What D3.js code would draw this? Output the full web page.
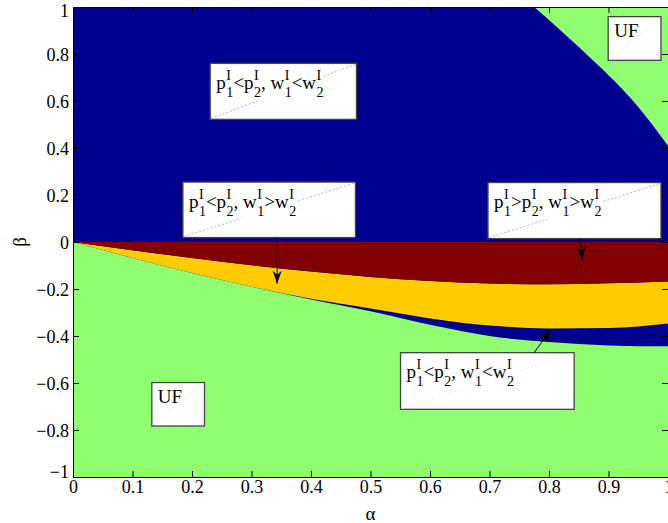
<!DOCTYPE html>
<html>
<head>
<meta charset="utf-8">
<script src="https://cdn.jsdelivr.net/npm/d3@7"></script>
<style>
  body { margin: 0; background: #fff; }
  svg { display: block; }
  text { font-family: "Liberation Serif", "Times New Roman", Times, serif; fill: #000; white-space: pre; }
</style>
</head>
<body>
<svg id="chart" width="668" height="523"></svg>
<script>
/* ── Data ───────────────────────────────────────────────────────────────────── */
const ALPHA         = [0, 0.1, 0.2, 0.3, 0.4, 0.5, 0.6, 0.7, 0.8, 0.9, 1.0];
const RED_BOTTOM    = [0, -0.035, -0.068, -0.099, -0.126, -0.149, -0.166, -0.177, -0.180, -0.176, -0.168];
const YELLOW_BOTTOM = [0, -0.068, -0.132, -0.190, -0.242, -0.283, -0.325, -0.355, -0.368, -0.366, -0.347];
const GREEN_TOP     = [0, -0.068, -0.132, -0.190, -0.245, -0.295, -0.352, -0.400, -0.426, -0.440, -0.444];

// upper-right unfeasible region boundary
const UF_ALPHA = [0.775, 0.8, 0.85, 0.9, 0.95, 1.0];
const UF_BETA  = [1.0, 0.945, 0.83, 0.71, 0.575, 0.41];

const X_TICKS = [0, 0.1, 0.2, 0.3, 0.4, 0.5, 0.6, 0.7, 0.8, 0.9, 1];
const Y_TICKS = [-1, -0.8, -0.6, -0.4, -0.2, 0, 0.2, 0.4, 0.6, 0.8, 1];

const LABELS = [
  "p_1^I<p_2^I, w_1^I<w_2^I",
  "p_1^I<p_2^I, w_1^I>w_2^I",
  "p_1^I>p_2^I, w_1^I>w_2^I",
  "p_1^I<p_2^I, w_1^I<w_2^I",
  "UF",
  "UF",
];

/* ── Annotation layout (data units) ─────────────────────────────────────────── */
const BOXES = [
  [0.2306, 0.760, 0.4764, 0.522],
  [0.1847, 0.255, 0.4747, 0.019],
  [0.6975, 0.253, 0.9882, 0.0145],
  [0.5505, -0.471, 0.8423, -0.712],
  [0.8995, 0.959, 0.9882, 0.773],
  [0.1325, -0.598, 0.2210, -0.783],
];
const ARROWS = [
  [0.3436, 0.019, 0.3430, -0.178],
  [0.8520, 0.0145, 0.8560, -0.076],
  [0.7750, -0.471, 0.8030, -0.373],
];

/* ── Palette ────────────────────────────────────────────────────────────────── */
const C_BLUE = "#00008f", C_GREEN = "#8fff70", C_YELLOW = "#ffcc00", C_RED = "#800000";
const DIAG = ["#aab0f0", "#aab0f0", "#aab0f0", "#d4ffc4", "#d4ffc4", "#d4ffc4"];
const SERIF = '"Liberation Serif", "Times New Roman", Times, serif';

/* ── Setup ──────────────────────────────────────────────────────────────────── */
const svg = d3.select("#chart");
const x = d3.scaleLinear().domain([0, 1]).range([73, 668]);
const y = d3.scaleLinear().domain([-1, 1]).range([477, 7]);

svg.append("clipPath").attr("id", "plot-clip")
  .append("rect")
  .attr("x", x(0)).attr("y", y(1))
  .attr("width", x(1) - x(0)).attr("height", y(-1) - y(1));

const plot = svg.append("g").attr("clip-path", "url(#plot-clip)");

// background = blue region
plot.append("rect")
  .attr("x", x(0)).attr("y", y(1))
  .attr("width", x(1) - x(0)).attr("height", y(-1) - y(1))
  .attr("fill", C_BLUE);

const idx = d3.range(ALPHA.length);
const band = (top, bottom) => d3.area()
  .x(i => x(ALPHA[i]))
  .y0(i => y(bottom(i)))
  .y1(i => y(top(i)))
  .curve(d3.curveMonotoneX);

plot.append("path").datum(idx).attr("fill", C_GREEN)
  .attr("d", band(i => GREEN_TOP[i], () => -1));
plot.append("path").datum(idx).attr("fill", C_YELLOW)
  .attr("d", band(i => RED_BOTTOM[i], i => YELLOW_BOTTOM[i]));
plot.append("path").datum(idx).attr("fill", C_RED)
  .attr("d", band(() => 0, i => RED_BOTTOM[i]));

// top-right UF region
const ufIdx = d3.range(UF_ALPHA.length);
plot.append("path").datum(ufIdx).attr("fill", C_GREEN)
  .attr("d", d3.area()
    .x(i => x(UF_ALPHA[i]))
    .y0(i => y(UF_BETA[i]))
    .y1(() => y(1))
    .curve(d3.curveNatural));

/* ── Axes ───────────────────────────────────────────────────────────────────── */
const fmt = d3.format("");
const styleAxis = g => {
  g.attr("font-family", null);
  g.select(".domain").attr("stroke", "#000");
  g.selectAll(".tick line").attr("stroke", "#000");
  g.selectAll(".tick text").attr("fill", "#000")
    .style("font-family", SERIF).style("font-size", "18px");
};

svg.append("g").attr("transform", `translate(0,${y(-1)})`)
  .call(d3.axisBottom(x).tickValues(X_TICKS).tickFormat(fmt).tickSizeInner(-6).tickSizeOuter(0).tickPadding(3))
  .call(styleAxis);
svg.append("g").attr("transform", `translate(0,${y(1)})`)
  .call(d3.axisTop(x).tickValues(X_TICKS).tickFormat("").tickSizeInner(-6).tickSizeOuter(0))
  .call(styleAxis);
const yAxis = svg.append("g").attr("transform", `translate(${x(0)},0)`)
  .call(d3.axisLeft(y).tickValues(Y_TICKS).tickFormat(fmt).tickSizeInner(-6).tickSizeOuter(0).tickPadding(4))
  .call(styleAxis);
// MATLAB nudges the end labels inside the axis
yAxis.selectAll(".tick text")
  .attr("dy", d => d === -1 ? "0" : d === 1 ? "0.5em" : "0.38em");
svg.append("g").attr("transform", `translate(${x(1)},0)`)
  .call(d3.axisRight(y).tickValues(Y_TICKS).tickFormat("").tickSizeInner(-6).tickSizeOuter(0))
  .call(styleAxis);

svg.append("text").attr("x", x(0.5)).attr("y", 520)
  .attr("text-anchor", "middle").style("font-size", "19px").text("α");
svg.append("text").attr("transform", `translate(26,${y(0)}) rotate(-90)`)
  .attr("text-anchor", "middle").style("font-size", "19px").text("β");

/* ── Annotations ────────────────────────────────────────────────────────────── */
function drawTex(g, x0, y0, src) {
  let cx = x0, i = 0;
  while (i < src.length) {
    let base = "";
    while (i < src.length && src[i] !== "_" && src[i] !== "^") { base += src[i]; i++; }
    if (base) {
      const t = g.append("text").attr("x", cx).attr("y", y0).style("font-size", "19px").text(base);
      cx += t.node().getComputedTextLength();
    }
    let w = 0;
    while (i < src.length && (src[i] === "_" || src[i] === "^")) {
      const sub = src[i] === "_";
      const t = g.append("text").attr("x", cx + 0.5).attr("y", y0 + (sub ? 8 : -9))
        .style("font-size", "14px").text(src[i + 1]);
      w = Math.max(w, t.node().getComputedTextLength() + 0.5);
      i += 2;
    }
    cx += w;
  }
}

const ann = svg.append("g");
BOXES.forEach(([a0, b0, a1, b1], k) => {
  const bx = x(a0), by = y(b0), bw = x(a1) - x(a0), bh = y(b1) - y(b0);
  const g = ann.append("g");
  g.append("rect").attr("x", bx).attr("y", by).attr("width", bw).attr("height", bh)
    .attr("fill", "#fff").attr("stroke", "#444").attr("stroke-width", 1.3);
  g.append("line").attr("x1", bx + 1).attr("y1", by + bh - 1).attr("x2", bx + bw - 1).attr("y2", by + 1)
    .attr("stroke", DIAG[k]).attr("stroke-width", 1).attr("stroke-dasharray", "2,2");
  const bg = g.append("rect").attr("fill", "#fff");
  const tg = g.append("g");
  const isUF = LABELS[k] === "UF";
  drawTex(tg, bx + 6, by + (isUF ? 20 : 25.5), LABELS[k]);
  const bb = tg.node().getBBox();
  bg.attr("x", bb.x).attr("y", bb.y).attr("width", bb.width).attr("height", bb.height);
});

ARROWS.forEach(([a0, b0, a1, b1]) => {
  const x1 = x(a0), y1 = y(b0), x2 = x(a1), y2 = y(b1);
  const ang = Math.atan2(y2 - y1, x2 - x1) * 180 / Math.PI;
  ann.append("line").attr("x1", x1).attr("y1", y1).attr("x2", x2).attr("y2", y2)
    .attr("stroke", "#000").attr("stroke-width", 1);
  ann.append("path").attr("d", "M0,0L-13,-4.5L-9,0L-13,4.5Z")
    .attr("transform", `translate(${x2},${y2}) rotate(${ang})`)
    .attr("fill", "#000");
});
</script>
</body>
</html>
